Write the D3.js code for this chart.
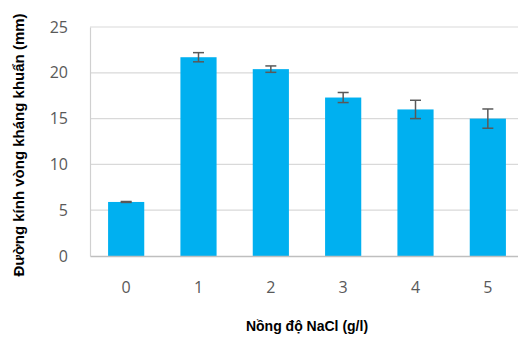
<!DOCTYPE html>
<html>
<head>
<meta charset="utf-8">
<script src="https://cdn.jsdelivr.net/npm/d3@7"></script>
<style>
  body { margin: 0; background: #fff; }
  text { font-family: "Liberation Sans", Arial, sans-serif; }
</style>
</head>
<body>
<svg width="518" height="337"></svg>
<script>
  const categories = ['0', '1', '2', '3', '4', '5'];
  const values = [5.9, 21.7, 20.4, 17.3, 16.0, 15.0];
  const errors = [0.05, 0.5, 0.35, 0.55, 1.0, 1.05];
  const yTicks = [0, 5, 10, 15, 20, 25];
  const xLabel = 'Nồng độ NaCl (g/l)';
  const yLabel = 'Đường kính vòng kháng khuẩn (mm)';

  const margin = { left: 90, right: -6, top: 27, bottom: 81 };
  const svg = d3.select('svg');
  const width = +svg.attr('width');
  const height = +svg.attr('height');
  const innerWidth = width - margin.left - margin.right;
  const innerHeight = height - margin.top - margin.bottom;

  const g = svg.append('g')
      .attr('transform', `translate(${margin.left},${margin.top})`);

  const xScale = d3.scaleBand()
    .domain(categories)
    .range([0, innerWidth])
    .paddingInner(0.5)
    .paddingOuter(0.25);

  const yScale = d3.scaleLinear()
    .domain([0, 25])
    .range([innerHeight, 0]);

  // gridlines
  g.selectAll('.grid').data(yTicks.filter(d => d > 0)).enter()
    .append('line')
      .attr('x1', 0).attr('x2', innerWidth)
      .attr('y1', d => yScale(d)).attr('y2', d => yScale(d))
      .attr('stroke', '#d9d9d9')
      .attr('stroke-width', 1.2);

  // y axis
  const yAxis = d3.axisLeft(yScale).tickValues(yTicks).tickSize(0).tickPadding(22);
  const yAxisG = g.append('g').call(yAxis);
  yAxisG.select('.domain').attr('stroke', '#d0d0d0').attr('stroke-width', 1.2);
  yAxisG.selectAll('text')
    .attr('font-size', 16)
    .attr('fill', '#595959')
    .style('font-family', '"Open Sans", sans-serif');

  // bars
  g.selectAll('.bar').data(values).enter()
    .append('rect')
      .attr('x', (d, i) => xScale(categories[i]))
      .attr('y', d => yScale(d))
      .attr('width', xScale.bandwidth())
      .attr('height', d => innerHeight - yScale(d))
      .attr('fill', '#00b0f0');

  // x axis
  const xAxis = d3.axisBottom(xScale).tickSize(0).tickPadding(26);
  const xAxisG = g.append('g')
      .attr('transform', `translate(0,${innerHeight})`)
      .call(xAxis);
  xAxisG.select('.domain').attr('stroke', '#bfbfbf').attr('stroke-width', 1.5);
  xAxisG.selectAll('text')
    .attr('font-size', 16)
    .attr('fill', '#595959')
    .style('font-family', '"Open Sans", sans-serif');

  // error bars
  const capW = 11;
  const eb = g.selectAll('.err').data(values).enter().append('g')
      .attr('stroke', '#595959')
      .attr('stroke-width', 1.5);
  eb.append('line')
      .attr('x1', (d, i) => xScale(categories[i]) + xScale.bandwidth() / 2)
      .attr('x2', (d, i) => xScale(categories[i]) + xScale.bandwidth() / 2)
      .attr('y1', (d, i) => yScale(d + errors[i]))
      .attr('y2', (d, i) => yScale(d - errors[i]));
  [1, -1].forEach(s => {
    eb.append('line')
        .attr('x1', (d, i) => xScale(categories[i]) + xScale.bandwidth() / 2 - capW / 2)
        .attr('x2', (d, i) => xScale(categories[i]) + xScale.bandwidth() / 2 + capW / 2)
        .attr('y1', (d, i) => yScale(d + s * errors[i]))
        .attr('y2', (d, i) => yScale(d + s * errors[i]));
  });

  // axis titles
  svg.append('text')
      .attr('x', 307)
      .attr('y', 331)
      .attr('text-anchor', 'middle')
      .attr('font-size', 14)
      .attr('font-weight', 'bold')
      .attr('fill', '#000')
      .text(xLabel);

  svg.append('text')
      .attr('transform', `translate(24,145) rotate(-90)`)
      .attr('text-anchor', 'middle')
      .attr('font-size', 15)
      .attr('font-weight', 'bold')
      .attr('fill', '#000')
      .text(yLabel);
</script>
</body>
</html>
